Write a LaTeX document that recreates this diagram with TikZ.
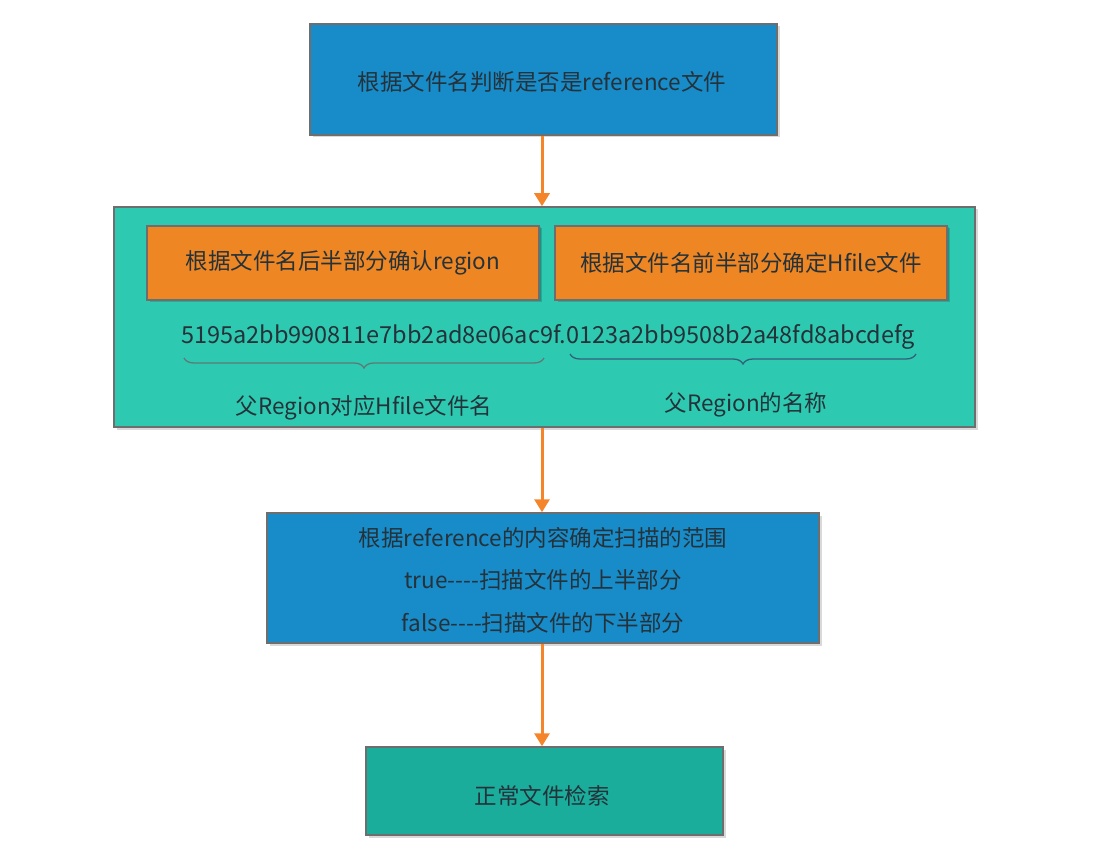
\documentclass[tikz,border=0pt]{standalone}
\usepackage{fontspec}
\setmainfont{Noto Sans CJK SC}
\usetikzlibrary{arrows.meta,shadows,decorations.pathreplacing}
\definecolor{boxblue}{HTML}{188BC9}
\definecolor{panelteal}{HTML}{2DCAB1}
\definecolor{boxorange}{HTML}{EE8623}
\definecolor{boxteal}{HTML}{1AAD9B}
\definecolor{arroworange}{HTML}{F5852A}
\definecolor{bordergray}{HTML}{6E6E6E}
\definecolor{txt}{HTML}{25323A}
\definecolor{bracegray}{HTML}{5E7A78}
\definecolor{braceblue}{HTML}{34607A}
\tikzset{
  box/.style={draw=bordergray, line width=1.5pt, inner sep=0pt, text=txt,
    font=\fontsize{22.5}{42.5}\selectfont, align=center,
    drop shadow={shadow xshift=2.5pt, shadow yshift=-2.5pt, fill=black, opacity=0.15}},
  flow/.style={draw=arroworange, line width=3pt, -{Triangle[width=15pt,length=13pt]}},
  lbl/.style={text=txt, font=\fontsize{22.5}{26}\selectfont, inner sep=0pt},
  bracestyle/.style={line width=1.3pt, decorate, decoration={brace, mirror, amplitude=10pt}}
}
\begin{document}
\begin{tikzpicture}[x=1pt,y=-1pt]
\useasboundingbox (0,0) rectangle (1094,866);
\node[box, fill=boxblue, minimum width=467pt, minimum height=111pt] (top) at (543.5,79.5) {};
\node[lbl] (toptext) at (542,82) {根据文件名判断是否是reference文件};
\node[box, fill=panelteal, minimum width=861pt, minimum height=220pt] (panel) at (544.5,317) {};
\node[box, fill=boxorange, minimum width=392pt, minimum height=74pt, drop shadow={shadow xshift=1.5pt, shadow yshift=-1.5pt, fill=black, opacity=0.15}] (left) at (343,263) {根据文件名后半部分确认region};
\node[box, fill=boxorange, minimum width=392pt, minimum height=74pt, drop shadow={shadow xshift=1.5pt, shadow yshift=-1.5pt, fill=black, opacity=0.15}] (right) at (751,263) {根据文件名前半部分确定Hfile文件};
\node[lbl, font=\fontsize{23.5}{26}\selectfont] (hash) at (548,337) {5195a2bb990811e7bb2ad8e06ac9f.0123a2bb9508b2a48fd8abcdefg};
\coordinate (lb1) at (184,358);
\coordinate (lb2) at (544,358);
\coordinate (rb1) at (570,354);
\coordinate (rb2) at (916,354);
\draw[bracestyle, draw=bracegray] (lb1) -- (lb2);
\draw[bracestyle, draw=braceblue] (rb1) -- (rb2);
\node[lbl] (lname) at (364,408) {父Region对应Hfile文件名};
\node[lbl] (rname) at (746,405) {父Region的名称};
\node[box, fill=boxblue, minimum width=552pt, minimum height=130pt] (mid) at (543,578) {};
\node[lbl, align=center, font=\fontsize{22.5}{42.5}\selectfont] (midtext) at (543,580) {根据reference的内容确定扫描的范围\\true-{}-{}-{}-扫描文件的上半部分\\false-{}-{}-{}-扫描文件的下半部分};
\node[box, fill=boxteal, minimum width=357pt, minimum height=88pt] (bot) at (544.5,791) {};
\node[lbl] (bottext) at (542,796) {正常文件检索};
\draw[flow] (top.south -| 542,0) -- (panel.north -| 542,0);
\draw[flow] (panel.south -| 542,0) -- (mid.north -| 542,0);
\draw[flow] (mid.south -| 542,0) -- (bot.north -| 542,0);
\end{tikzpicture}
\end{document}
